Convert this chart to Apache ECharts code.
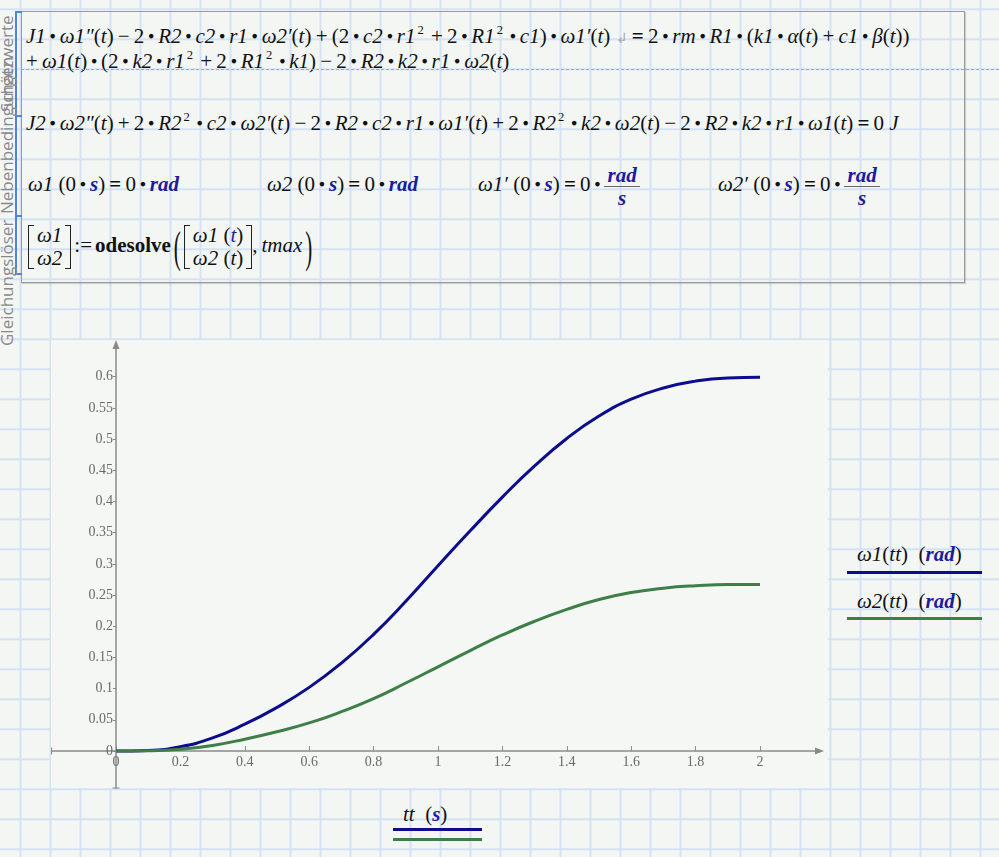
<!DOCTYPE html>
<html>
<head>
<meta charset="utf-8">
<script src="https://cdn.jsdelivr.net/npm/echarts@6.0.0/dist/echarts.min.js"></script>
<style>
html,body{margin:0;padding:0;width:999px;height:857px;overflow:hidden;}
body{position:relative;background-color:#f4f6f3;
 background-image:linear-gradient(to right,#d3e2f4 2px,transparent 2px),linear-gradient(to bottom,#d3e2f4 2px,transparent 2px);
 background-size:30px 30px;background-position:19.5px 8.3px;}
#panel{position:absolute;left:51px;top:340px;width:777px;height:448px;background:#f5f7f4;}
#box{position:absolute;left:21px;top:11px;width:942px;height:270px;border:1px solid #9a9a9a;box-shadow:1px 1px 1px rgba(0,0,0,0.15);}
.brk{position:absolute;left:15px;width:5px;border-left:2px solid #4a86dc;border-top:2px solid #4a86dc;border-bottom:2px solid #4a86dc;}
#dash{position:absolute;left:21px;top:69px;width:978px;height:0;border-top:1px dashed #9eaab6;}
.vlab{position:absolute;font-family:'Open Sans','Noto Sans',sans-serif;font-size:17px;color:#8a8a8a;transform-origin:0 0;transform:rotate(-90deg);white-space:nowrap;line-height:16px;}
.eq{position:absolute;font-family:'Liberation Serif',serif;font-size:21px;line-height:24px;white-space:nowrap;color:#111;}
.eq i{font-style:italic;}
.d{display:inline-block;font-size:0.5em;vertical-align:0.35em;margin:0 0.36em;font-style:normal;}
.eq sup{font-size:0.6em;vertical-align:0.75em;line-height:0;margin-left:2px;margin-right:3px;}
.op{margin:0 0.2em;}
.eqs{font-weight:bold;margin:0 0.2em;}
.u{color:#1c1c9c;font-weight:bold;font-style:italic;}
.ub{color:#1c1c9c;font-style:italic;}
.frac{display:inline-flex;flex-direction:column;align-items:center;vertical-align:middle;line-height:22px;}
.frac .n{border-bottom:1.5px solid #666;padding:0 3px;}
.mat{position:relative;display:inline-flex;flex-direction:column;vertical-align:middle;padding:0 9px;line-height:23px;text-align:center;}
.mat::before,.mat::after{content:'';position:absolute;top:1px;bottom:1px;width:5px;border:1.5px solid #222;}
.mat::before{left:0;border-right:none;}
.mat::after{right:0;border-left:none;}
.bp{display:inline-block;transform:scaleY(2.1);font-weight:300;vertical-align:middle;margin:0 3px;}
.leg{position:absolute;font-family:'Liberation Serif',serif;font-size:21px;line-height:24px;white-space:nowrap;color:#111;}
.ln{position:absolute;height:3px;}
#chart{position:absolute;left:0;top:0;width:999px;height:857px;}
</style>
</head>
<body>
<div id="panel"></div>
<div id="box"></div>
<div class="brk" style="top:11px;height:102px"></div>
<div class="brk" style="top:115px;height:100px;border-top:none"></div>
<div class="brk" style="top:217px;height:56px;border-top:none"></div>
<div class="vlab" style="left:-1px;top:346px;">Gleichungslöser</div>
<div class="vlab" style="left:-1px;top:214px;">Nebenbedingungen</div>
<div class="vlab" style="left:-1px;top:112px;">Schätzwerte</div>

<div class="eq" style="left:26px;top:24px;"><i>J1</i><span class="d">●</span><i>ω1″</i>(<i>t</i>)<span class="op">−</span>2<span class="d">●</span><i>R2</i><span class="d">●</span><i>c2</i><span class="d">●</span><i>r1</i><span class="d">●</span><i>ω2′</i>(<i>t</i>)<span class="op">+</span>(2<span class="d">●</span><i>c2</i><span class="d">●</span><i>r1</i><sup>2</sup><span class="op">+</span>2<span class="d">●</span><i>R1</i><sup>2</sup><span class="d">●</span><i>c1</i>)<span class="d">●</span><i>ω1′</i>(<i>t</i>) <span style="color:#aaa;font-size:14px">↲</span><span class="eqs">=</span>2<span class="d">●</span><i>rm</i><span class="d">●</span><i>R1</i><span class="d">●</span>(<i>k1</i><span class="d">●</span><i>α</i>(<i>t</i>)<span class="op">+</span><i>c1</i><span class="d">●</span><i>β</i>(<i>t</i>))</div>
<div class="eq" style="left:26px;top:49px;"><span class="op" style="margin-left:0">+</span><i>ω1</i>(<i>t</i>)<span class="d">●</span>(2<span class="d">●</span><i>k2</i><span class="d">●</span><i>r1</i><sup>2</sup><span class="op">+</span>2<span class="d">●</span><i>R1</i><sup>2</sup><span class="d">●</span><i>k1</i>)<span class="op">−</span>2<span class="d">●</span><i>R2</i><span class="d">●</span><i>k2</i><span class="d">●</span><i>r1</i><span class="d">●</span><i>ω2</i>(<i>t</i>)</div>
<div class="eq" style="left:26px;top:111px;"><i>J2</i><span class="d">●</span><i>ω2″</i>(<i>t</i>)<span class="op">+</span>2<span class="d">●</span><i>R2</i><sup>2</sup><span class="d">●</span><i>c2</i><span class="d">●</span><i>ω2′</i>(<i>t</i>)<span class="op">−</span>2<span class="d">●</span><i>R2</i><span class="d">●</span><i>c2</i><span class="d">●</span><i>r1</i><span class="d">●</span><i>ω1′</i>(<i>t</i>)<span class="op">+</span>2<span class="d">●</span><i>R2</i><sup>2</sup><span class="d">●</span><i>k2</i><span class="d">●</span><i>ω2</i>(<i>t</i>)<span class="op">−</span>2<span class="d">●</span><i>R2</i><span class="d">●</span><i>k2</i><span class="d">●</span><i>r1</i><span class="d">●</span><i>ω1</i>(<i>t</i>)<span class="eqs">=</span>0 <i>J</i></div>

<div class="eq" style="left:28px;top:172px;"><i>ω1</i> (0<span class="d">●</span><span class="u">s</span>)<span class="eqs">=</span>0<span class="d">●</span><span class="u">rad</span></div>
<div class="eq" style="left:267px;top:172px;"><i>ω2</i> (0<span class="d">●</span><span class="u">s</span>)<span class="eqs">=</span>0<span class="d">●</span><span class="u">rad</span></div>
<div class="eq" style="left:478px;top:160px;line-height:48px"><i>ω1′</i> (0<span class="d">●</span><span class="u">s</span>)<span class="eqs">=</span>0<span class="d">●</span><span class="frac"><span class="u n">rad</span><span class="u">s</span></span></div>
<div class="eq" style="left:718px;top:160px;line-height:48px"><i>ω2′</i> (0<span class="d">●</span><span class="u">s</span>)<span class="eqs">=</span>0<span class="d">●</span><span class="frac"><span class="u n">rad</span><span class="u">s</span></span></div>

<div class="eq" style="left:28px;top:221px;line-height:48px"><span class="mat"><i>ω1</i><i>ω2</i></span><span style="margin:0 3px">:=</span><b style="font-style:normal">odesolve</b><span class="bp">(</span><span class="mat"><span><i>ω1</i> (<span class="ub">t</span>)</span><span><i>ω2</i> (<i>t</i>)</span></span>,<i style="margin-left:4px">tmax</i><span class="bp">)</span></div>

<div id="dash"></div>

<div class="leg" style="left:857px;top:542px;"><i>ω1</i>(<i>tt</i>)&nbsp;&nbsp;(<span class="u">rad</span>)</div>
<div class="ln" id="l1" style="left:847px;top:571px;width:135px;"></div>
<div class="leg" style="left:857px;top:589px;"><i>ω2</i>(<i>tt</i>)&nbsp;&nbsp;(<span class="u">rad</span>)</div>
<div class="ln" id="l2" style="left:847px;top:617px;width:135px;"></div>

<div class="leg" style="left:403px;top:802px;"><i>tt</i>&nbsp;&nbsp;(<span class="u">s</span>)</div>
<div class="ln" id="x1" style="left:393px;top:828px;width:89px;"></div>
<div class="ln" id="x2" style="left:393px;top:838px;width:89px;"></div>

<div id="chart"></div>
<script>
// ---- data ----
const tt = [0,0.1,0.2,0.3,0.4,0.5,0.6,0.7,0.8,0.9,1.0,1.1,1.2,1.3,1.4,1.5,1.6,1.7,1.8,1.9,2.0];
const omega1 = [0,0.001,0.007,0.021,0.043,0.070,0.102,0.141,0.187,0.240,0.297,0.353,0.407,0.457,0.501,0.537,0.564,0.582,0.593,0.598,0.599];
const omega2 = [0,0.0005,0.003,0.009,0.019,0.031,0.045,0.063,0.084,0.109,0.135,0.161,0.186,0.208,0.227,0.243,0.254,0.261,0.265,0.267,0.267];
const xTicks = [0,0.2,0.4,0.6,0.8,1,1.2,1.4,1.6,1.8,2];
const yTicks = [0,0.05,0.1,0.15,0.2,0.25,0.3,0.35,0.4,0.45,0.5,0.55,0.6];
const seriesNames = ['ω1(tt) (rad)','ω2(tt) (rad)'];
const colors = ['#0c0c8c','#3e7f48'];

document.getElementById('l1').style.background = colors[0];
document.getElementById('l2').style.background = colors[1];
document.getElementById('x1').style.background = colors[0];
document.getElementById('x2').style.background = colors[1];

const cap = 'path://M0,3.75L10,3.75L10,5.25L0,5.25ZM0,0L0,0M10,9L10,9';
const axisCol = '#8a8a8a';
const lblStyle = {color:'#6a6a6a', fontFamily:'Liberation Serif', fontSize:14};

// axis positions: x axis sits at y = 0, y axis at x = 0
const xMin = -0.2, xMax = 2.1848, yMin = -0.0593, yMax = 0.6517;
const gridL = 51.6, gridR = 179.5, gridT = 344.5, gridB = 69;
const plotW = 999 - gridL - gridR, plotH = 857 - gridT - gridB;
const xOff = -(0 - xMin) / (xMax - xMin) * plotW;   // move y axis onto x = 0
const yOff = -(0 - yMin) / (yMax - yMin) * plotH;   // move x axis onto y = 0

const chart = echarts.init(document.getElementById('chart'));
chart.setOption({
  animation:false,
  grid:{left:gridL, right:gridR, top:gridT, bottom:gridB},
  xAxis:{type:'value', min:xMin, max:xMax, position:'bottom', offset:yOff,
    axisLine:{onZero:false, symbol:[cap,'triangle'], symbolSize:[7,9], lineStyle:{color:axisCol,width:1.5}},
    axisTick:{show:true, inside:true, length:5, customValues:xTicks, lineStyle:{color:axisCol,width:1}},
    axisLabel:Object.assign({customValues:xTicks, margin:4, formatter:v=>String(v)}, lblStyle),
    splitLine:{show:false}},
  yAxis:{type:'value', min:yMin, max:yMax, position:'left', offset:xOff,
    axisLine:{onZero:false, symbol:[cap,'triangle'], symbolSize:[7,9], lineStyle:{color:axisCol,width:1.5}},
    axisTick:{show:true, length:3, customValues:yTicks, lineStyle:{color:axisCol,width:1}},
    axisLabel:Object.assign({customValues:yTicks, margin:3, formatter:v=>String(v)}, lblStyle),
    splitLine:{show:false}},
  series:[
    {name:seriesNames[0], type:'line', smooth:true, showSymbol:false, data:tt.map((t,i)=>[t,omega1[i]]), lineStyle:{color:colors[0],width:3}, itemStyle:{color:colors[0]}},
    {name:seriesNames[1], type:'line', smooth:true, showSymbol:false, data:tt.map((t,i)=>[t,omega2[i]]), lineStyle:{color:colors[1],width:3}, itemStyle:{color:colors[1]}}
  ]
});
</script>
</body>
</html>
